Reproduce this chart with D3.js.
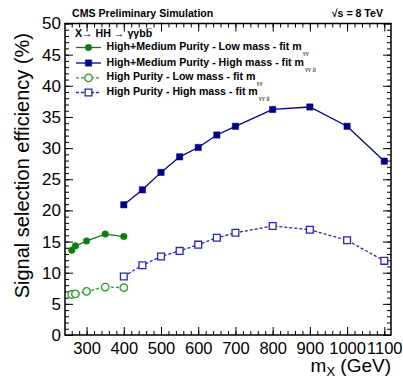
<!DOCTYPE html>
<html>
<head>
<meta charset="utf-8">
<script src="https://cdn.jsdelivr.net/npm/d3@7"></script>
<style>
  body { margin: 0; background: #fff; }
  svg { font-family: "Liberation Sans", Arial, Helvetica, sans-serif; }
</style>
</head>
<body>
<div id="chart"></div>
<script>
// mass points (GeV)
let massLow = [260, 270, 300, 350, 400];
let massHigh = [400, 450, 500, 550, 600, 650, 700, 800, 900, 1000, 1100];

// efficiencies (%)
let effHMLow = [13.6, 14.3, 15.1, 16.2, 15.8];
let effHMHigh = [20.9, 23.3, 26.1, 28.6, 30.1, 32.1, 33.5, 36.2, 36.6, 33.5, 27.9];
let effHPLow = [6.5, 6.6, 7.0, 7.7, 7.6];
let effHPHigh = [9.4, 11.2, 12.6, 13.5, 14.5, 15.6, 16.4, 17.5, 16.9, 15.2, 11.9];

let xTicks = [300, 400, 500, 600, 700, 800, 900, 1000, 1100];
let yTicks = [0, 5, 10, 15, 20, 25, 30, 35, 40, 45, 50];

let seriesNames = [
    ["High+Medium Purity - Low mass - fit m", "γγ"],
    ["High+Medium Purity - High mass - fit m", "γγ jj"],
    ["High Purity - Low mass - fit m", "γγ"],
    ["High Purity - High mass - fit m", "γγ jj"]
];

let W = 403, H = 383;
let margin = {left: 65, right: 12, top: 23.5, bottom: 48};

let svg = d3.select("#chart").append("svg")
    .attr("width", W)
    .attr("height", H);

let x = d3.scaleLinear().domain([242, 1118]).range([margin.left, W - margin.right]);
let y = d3.scaleLinear().domain([0, 50]).range([H - margin.bottom, margin.top]);

let x0 = margin.left, x1 = W - margin.right, y0 = H - margin.bottom, y1 = margin.top;

// ticks, inward on all four sides
let xMinor = d3.range(260, 1118, 20);
let yMinor = d3.range(0, 50.01, 1);

function drawAxis(axis, tx, ty) {
    let g = svg.append("g")
        .attr("transform", "translate(" + tx + "," + ty + ")")
        .call(axis);
    g.select(".domain").remove();
    g.selectAll("line").attr("stroke", "#000").attr("stroke-width", 1);
    return g;
}

drawAxis(d3.axisBottom(x).tickValues(xMinor).tickSize(-4).tickFormat(""), 0, y0);
drawAxis(d3.axisTop(x).tickValues(xMinor).tickSize(-4).tickFormat(""), 0, y1);
drawAxis(d3.axisTop(x).tickValues(xTicks).tickSize(-8).tickFormat(""), 0, y1);
let xg = drawAxis(d3.axisBottom(x).tickValues(xTicks).tickSize(-8).tickPadding(12).tickFormat(d3.format("d")), 0, y0);
xg.selectAll("text")
    .attr("font-size", 16.5)
    .attr("fill", "#000")
    .attr("dy", "0.71em")
    .attr("y", 7);

drawAxis(d3.axisLeft(y).tickValues(yMinor).tickSize(-4).tickFormat(""), x0, 0);
drawAxis(d3.axisRight(y).tickValues(yMinor).tickSize(-4).tickFormat(""), x1, 0);
drawAxis(d3.axisRight(y).tickValues(yTicks).tickSize(-8).tickFormat(""), x1, 0);
let yg = drawAxis(d3.axisLeft(y).tickValues(yTicks).tickSize(-8).tickPadding(12).tickFormat(d3.format("d")), x0, 0);
yg.selectAll("text")
    .attr("font-size", 17)
    .attr("fill", "#000")
    .attr("x", -4);

// frame
svg.append("rect")
    .attr("x", x0).attr("y", y1)
    .attr("width", x1 - x0).attr("height", y0 - y1)
    .attr("fill", "none")
    .attr("stroke", "#000")
    .attr("stroke-width", 1.5);

// series
let green = "#0b7f0b", blue = "#00008f";
let greenHP = "#2a9a2a", blueHP = "#2424c8";

let series = [
    {mass: massLow, eff: effHMLow, color: green, dash: null, shape: d3.symbolCircle, size: 34, open: false},
    {mass: massHigh, eff: effHMHigh, color: blue, dash: null, shape: d3.symbolSquare, size: 40, open: false},
    {mass: massLow, eff: effHPLow, color: greenHP, dash: "3,2", shape: d3.symbolCircle, size: 44, open: true},
    {mass: massHigh, eff: effHPHigh, color: blueHP, dash: "3,2", shape: d3.symbolSquare, size: 46, open: true}
];

let line = d3.line()
    .x(d => x(d[0]))
    .y(d => y(d[1]));

series.forEach(function(s) {
    let pts = s.mass.map((m, i) => [m, s.eff[i]]);
    svg.append("path")
        .datum(pts)
        .attr("d", line)
        .attr("fill", "none")
        .attr("stroke", s.color)
        .attr("stroke-width", 1.3)
        .attr("stroke-dasharray", s.dash);

    svg.append("g").selectAll("path")
        .data(pts)
        .enter().append("path")
        .attr("d", d3.symbol().type(s.shape).size(s.size))
        .attr("transform", d => "translate(" + x(d[0]) + "," + y(d[1]) + ")")
        .attr("fill", s.open ? "#fff" : s.color)
        .attr("stroke", s.color)
        .attr("stroke-width", s.open ? 1.3 : 0.5);
});

// header
svg.append("text")
    .attr("x", 72).attr("y", 17)
    .attr("font-size", 10.6).attr("font-weight", "bold")
    .text("CMS Preliminary Simulation");

svg.append("text")
    .attr("x", 383).attr("y", 17)
    .attr("text-anchor", "end")
    .attr("font-size", 10.6).attr("font-weight", "bold")
    .text("√s = 8 TeV");

// legend
let leg = svg.append("g");
leg.append("text")
    .attr("x", 75).attr("y", 37)
    .attr("font-size", 10.6).attr("font-weight", "bold")
    .text("X→ HH → γγbb\u0305");

let rowY = [47.5, 63, 77.8, 92.5];
series.forEach(function(s, i) {
    let ry = rowY[i];
    leg.append("line")
        .attr("x1", 76).attr("x2", 101)
        .attr("y1", ry).attr("y2", ry)
        .attr("stroke", s.color)
        .attr("stroke-width", 1.3)
        .attr("stroke-dasharray", s.dash);
    leg.append("path")
        .attr("d", d3.symbol().type(s.shape).size(s.size))
        .attr("transform", "translate(88.5," + ry + ")")
        .attr("fill", s.open ? "#fff" : s.color)
        .attr("stroke", s.color)
        .attr("stroke-width", s.open ? 1.3 : 0.5);
    let t = leg.append("text")
        .attr("x", 106.5).attr("y", ry + 2.5)
        .attr("font-size", 10.6).attr("font-weight", "bold");
    t.append("tspan").text(seriesNames[i][0]);
    t.append("tspan")
        .attr("dx", 1).attr("dy", 5)
        .attr("font-size", 5.5)
        .attr("fill", "#555")
        .text(seriesNames[i][1]);
});

// axis titles
let xt = svg.append("text")
    .attr("x", 391).attr("y", 372)
    .attr("text-anchor", "end")
    .attr("font-size", 19);
xt.append("tspan").text("m");
xt.append("tspan").attr("dy", 4).attr("font-size", 13).text("X");
xt.append("tspan").attr("dy", -4).text(" (GeV)");

svg.append("text")
    .attr("transform", "translate(29,33) rotate(-90)")
    .attr("text-anchor", "end")
    .attr("font-size", 20)
    .text("Signal selection efficiency (%)");
</script>
</body>
</html>
